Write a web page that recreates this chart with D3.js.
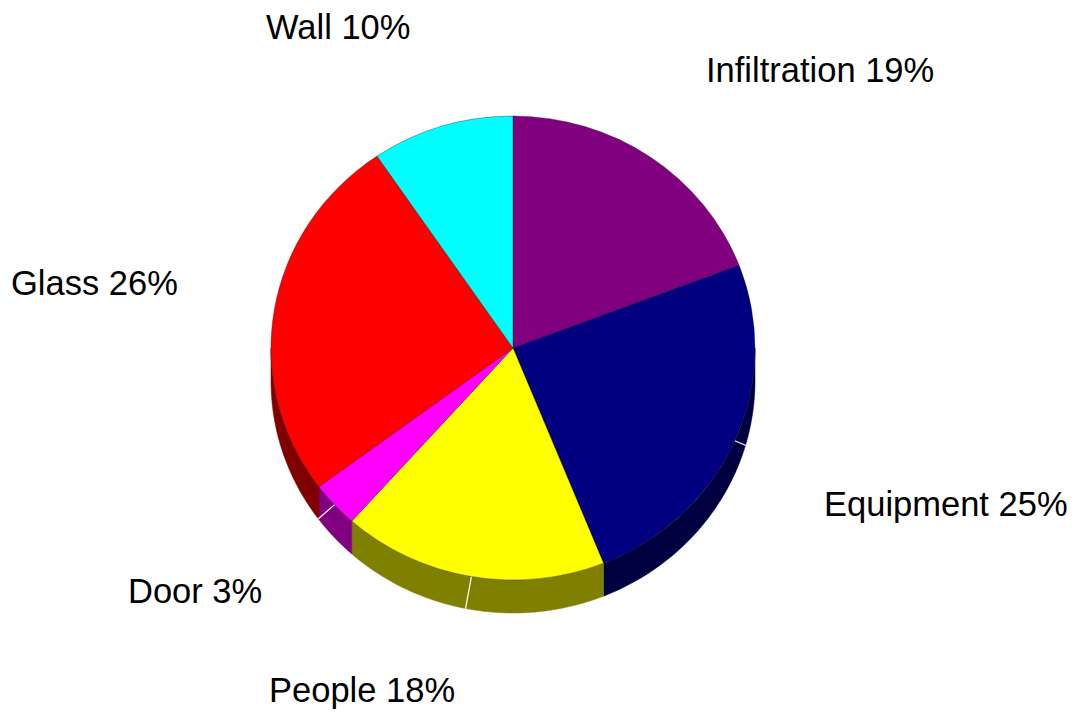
<!DOCTYPE html>
<html>
<head>
<meta charset="utf-8">
<script src="https://cdn.jsdelivr.net/npm/d3@7"></script>
<style>
  html, body { margin: 0; padding: 0; background: #fff; }
  svg { display: block; }
  text { font-family: "Liberation Sans", Arial, sans-serif; font-size: 34.5px; fill: #000; }
</style>
</head>
<body>
<svg id="chart" width="1080" height="714"></svg>
<script>
// ---- data ----
const categories = ["Infiltration", "Equipment", "People", "Door", "Glass", "Wall"];
const values = [19.2, 24.7, 17.7, 3.2, 25.7, 9.5];
const topColors = ["#800080", "#000080", "#FFFF00", "#FF00FF", "#FF0000", "#00FFFF"];
const sideColors = ["#400040", "#000040", "#808000", "#800080", "#800000", "#008080"];
// label layout (text start x, baseline y)
const labelPos = [[706, 82], [824, 516], [269, 702], [128, 603], [11, 295], [266, 39]];

// ---- layout ----
const cx = 513, cy = 348, rx = 242, ry = 232, depth = 33;
const svg = d3.select("#chart");

const pie = d3.pie().sort(null).value(d => d)(values);
const ex = a => cx + rx * Math.sin(a);
const ey = a => cy - ry * Math.cos(a);

// side band (only front half visible)
const gSide = svg.append("g");
const line = d3.line();
pie.forEach((p, i) => {
  const a0 = Math.max(p.startAngle, Math.PI / 2);
  const a1 = Math.min(p.endAngle, 3 * Math.PI / 2);
  if (a1 <= a0) return;
  const n = 60;
  const angs = d3.range(n + 1).map(k => a0 + (a1 - a0) * k / n);
  const pts = angs.map(a => [ex(a), ey(a)])
    .concat(angs.slice().reverse().map(a => [ex(a), ey(a) + depth]));
  gSide.append("path")
    .attr("d", line(pts) + "Z")
    .attr("fill", sideColors[i])
    .attr("stroke", sideColors[i])
    .attr("stroke-width", 0.5);
});

// leader lines (white, radial)
const gLead = svg.append("g");
pie.forEach((p, i) => {
  const m = (p.startAngle + p.endAngle) / 2;
  const x0 = ex(m), y0 = ey(m);
  const dx = rx * Math.sin(m), dy = -ry * Math.cos(m);
  const len = Math.hypot(dx, dy);
  gLead.append("line")
    .attr("x1", x0).attr("y1", y0)
    .attr("x2", x0 + dx / len * 40).attr("y2", y0 + dy / len * 40)
    .attr("stroke", "#fff").attr("stroke-width", 1.2);
});

// top surface
const arc = d3.arc().innerRadius(0).outerRadius(ry);
const gTop = svg.append("g").attr("transform", `translate(${cx},${cy}) scale(${rx / ry},1)`);
gTop.selectAll("path").data(pie).join("path")
  .attr("d", arc)
  .attr("fill", (d, i) => topColors[i])
  .attr("stroke", "#000")
  .attr("stroke-opacity", 0.45)
  .attr("stroke-width", 0.7)
  .attr("vector-effect", "non-scaling-stroke");

// labels
svg.append("g").selectAll("text").data(pie).join("text")
  .attr("x", (d, i) => labelPos[i][0])
  .attr("y", (d, i) => labelPos[i][1])
  .text((d, i) => `${categories[i]} ${Math.round(values[i])}%`);
</script>
</body>
</html>
